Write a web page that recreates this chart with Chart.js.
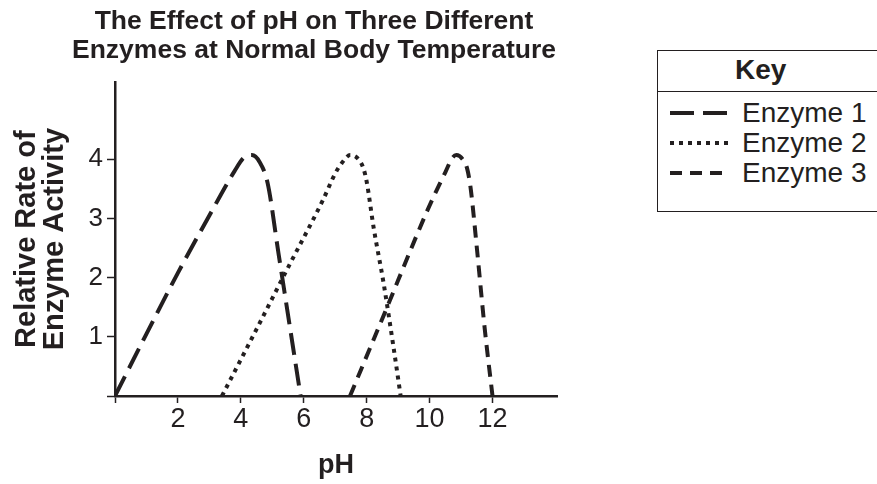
<!DOCTYPE html>
<html>
<head>
<meta charset="utf-8">
<title>The Effect of pH on Three Different Enzymes</title>
<script src="https://cdn.jsdelivr.net/npm/chart.js@4.4.1/dist/chart.umd.min.js"></script>
<style>
  html, body { margin: 0; padding: 0; background: #fff; }
  body { width: 877px; height: 484px; position: relative; overflow: hidden;
         font-family: "Liberation Sans", Arial, Helvetica, sans-serif; color: #231f20; }
  #chart { position: absolute; left: 0; top: 0; }
  #key-box { position: absolute; left: 657px; top: 50px; width: 240px; height: 162px;
             border: 1.5px solid #231f20; box-sizing: border-box; }
  #key-rule { position: absolute; left: 657px; top: 91px; width: 240px; height: 0;
              border-top: 1.5px solid #231f20; }
  .key-text { position: absolute; font-size: 28px; line-height: 30px; white-space: nowrap; }
  #key-title { left: 735px; top: 55px; font-weight: bold; }
  .key-line { position: absolute; left: 670px; }
</style>
</head>
<body>
<canvas id="chart" width="628" height="484"></canvas>

<div id="key-box"></div>
<div id="key-rule"></div>
<div id="key-title" class="key-text">Key</div>
<div id="key-rows"></div>

<script>
// pH axis ticks and activity ticks
const xTicks = [0, 2, 4, 6, 8, 10, 12];
const yTicks = [0, 1, 2, 3, 4];

// Enzyme 1 (long dashes)
const enzyme1Ph   = [0, 1, 2, 3, 3.8, 4.1, 4.35, 4.6, 4.85, 5.2, 5.55, 5.9];
const enzyme1Rate = [0, 1.05, 2.08, 3.05, 3.8, 4.03, 4.07, 3.95, 3.6, 2.4, 1.2, 0];

// Enzyme 2 (dots)
const enzyme2Ph   = [3.4, 4.5, 5.5, 6.6, 7.0, 7.2, 7.48, 7.74, 7.9, 8.0, 8.22, 8.54, 8.86, 9.08];
const enzyme2Rate = [0, 1.13, 2.17, 3.3, 3.76, 3.93, 4.07, 4.0, 3.84, 3.62, 2.85, 1.9, 0.8, 0];

// Enzyme 3 (short dashes)
const enzyme3Ph   = [7.47, 8.5, 9.9, 10.2, 10.5, 10.72, 10.85, 11.05, 11.19, 11.3, 11.51, 11.75, 12.0];
const enzyme3Rate = [0, 1.31, 3.1, 3.45, 3.78, 4.02, 4.07, 4.0, 3.85, 3.53, 2.46, 1.15, 0];

const seriesNames = ['Enzyme 1', 'Enzyme 2', 'Enzyme 3'];

const INK  = '#231f20';
const FONT = '"Liberation Sans", Arial, Helvetica, sans-serif';
const DASHES = [[22, 9], [4, 5], [12, 8]];

const pts = (xs, ys) => xs.map((x, i) => ({ x, y: ys[i] }));

new Chart(document.getElementById('chart'), {
  type: 'line',
  data: {
    datasets: [
      { label: seriesNames[0], data: pts(enzyme1Ph, enzyme1Rate), borderDash: DASHES[0] },
      { label: seriesNames[1], data: pts(enzyme2Ph, enzyme2Rate), borderDash: DASHES[1] },
      { label: seriesNames[2], data: pts(enzyme3Ph, enzyme3Rate), borderDash: DASHES[2] },
    ],
  },
  options: {
    animation: false,
    responsive: false,
    layout: { padding: 0 },
    elements: {
      point: { radius: 0, hoverRadius: 0 },
      line: { borderColor: INK, borderWidth: 4, cubicInterpolationMode: 'monotone', borderCapStyle: 'butt', fill: false },
    },
    plugins: {
      legend: { display: false },
      tooltip: { enabled: false },
      title: {
        display: true,
        text: ['The Effect of pH on Three Different', 'Enzymes at Normal Body Temperature'],
        color: INK,
        font: { family: FONT, size: 26.5, weight: 'bold', lineHeight: 1.1 },
        padding: { top: 7, bottom: 17 },
      },
    },
    scales: {
      x: {
        type: 'linear', min: 0, max: 14.05,
        afterFit: s => { s.height = 88; },
        afterBuildTicks: s => { s.ticks = xTicks.map(v => ({ value: v })); },
        ticks: { callback: v => (v === 0 ? '' : v), color: INK, font: { family: FONT, size: 27 }, padding: 0, maxRotation: 0, autoSkip: false },
        grid: { drawOnChartArea: false, tickLength: 7, tickWidth: 1.5, tickColor: INK },
        border: { color: INK, width: 2.5 },
        title: { display: true, text: 'pH', color: INK, font: { family: FONT, size: 27, weight: 'bold', lineHeight: 1.2 }, padding: { top: 0, bottom: 2 } },
      },
      y: {
        type: 'linear', min: 0, max: 5.3,
        afterFit: s => { s.width = 115; },
        afterBuildTicks: s => { s.ticks = yTicks.map(v => ({ value: v })); },
        ticks: { callback: v => (v === 0 ? '' : v), color: INK, font: { family: FONT, size: 26 }, padding: 4, autoSkip: false },
        grid: { drawOnChartArea: false, tickLength: 8, tickWidth: 1.5, tickColor: INK },
        border: { color: INK, width: 2.5 },
        title: { display: true, text: ['Relative Rate of', 'Enzyme Activity'], color: INK, font: { family: FONT, size: 29, weight: 'bold', lineHeight: 0.966 }, padding: { top: 13, bottom: 0 } },
      },
      // empty right-hand gutter so the title stays centred on the whole canvas
      gutter: {
        type: 'linear', position: 'right', display: true,
        afterFit: s => { s.width = 71; },
        ticks: { display: false },
        grid: { display: false, drawTicks: false },
        border: { display: false },
      },
    },
  },
});

// Key rows: line sample + name
const rowTops = [98, 128, 158];
const rows = document.getElementById('key-rows');
seriesNames.forEach((name, i) => {
  const mid = rowTops[i] + 15;
  rows.insertAdjacentHTML('beforeend',
    `<svg class="key-line" style="top:${mid - 5}px" width="58" height="10">
       <line x1="0" y1="5" x2="58" y2="5" stroke="${INK}" stroke-width="4" stroke-dasharray="${i === 0 ? '24 9' : DASHES[i].join(' ')}"/>
     </svg>
     <div class="key-text" style="left:742px;top:${rowTops[i]}px">${name}</div>`);
});
</script>
</body>
</html>
